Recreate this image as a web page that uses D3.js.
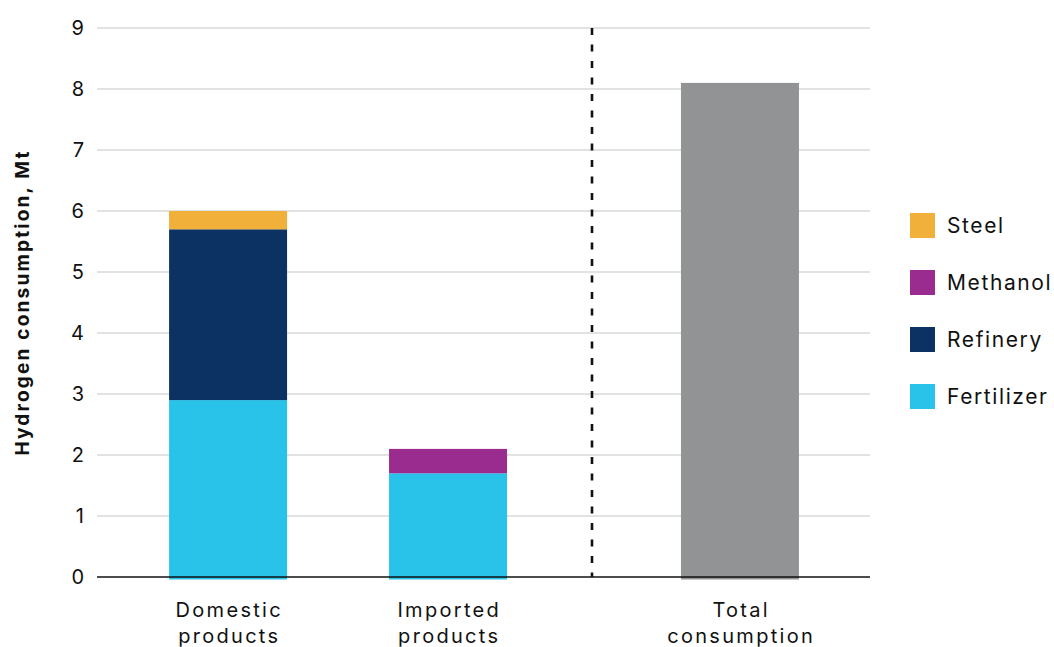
<!DOCTYPE html>
<html>
<head>
<meta charset="utf-8">
<script src="https://cdn.jsdelivr.net/npm/d3@7"></script>
<style>
  body { margin: 0; background: #fff; }
  svg { display: block; font-family: Inter, "Noto Sans", sans-serif; }
</style>
</head>
<body>
<div id="chart"></div>
<script>
// data
var categories = ["Domestic products", "Imported products"];
var totalCategory = "Total consumption";
var seriesNames = ["Fertilizer", "Refinery", "Methanol", "Steel"];
var fertilizer = [2.9, 1.7];
var refinery = [2.8, 0];
var methanol = [0, 0.4];
var steel = [0.3, 0];
var totalValue = [8.1];
var yTicks = [0, 1, 2, 3, 4, 5, 6, 7, 8, 9];

var colors = {
  Fertilizer: "#29c3ea",
  Refinery: "#0b3263",
  Methanol: "#9b2c8f",
  Steel: "#f0b03a"
};
var totalColor = "#929395";

var width = 1054, height = 647;
var plotLeft = 97, plotRight = 870, plotTop = 28, plotBottom = 577, divider = 592;

var svg = d3.select("#chart").append("svg")
    .attr("width", width)
    .attr("height", height);

var y = d3.scaleLinear().domain([0, 9]).range([plotBottom, plotTop]);

// two groups split by the dashed line
var xLeft = d3.scaleBand().domain(categories)
    .range([plotLeft, divider])
    .paddingInner(0.4636).paddingOuter(0.357).align(0.459);
var xRight = d3.scaleBand().domain([totalCategory])
    .range([divider, plotRight])
    .paddingInner(0).paddingOuter(0.678).align(0.556);

// gridlines
svg.append("g").selectAll("line")
  .data(yTicks.filter(function(d) { return d > 0; }))
  .enter().append("line")
    .attr("x1", plotLeft).attr("x2", plotRight)
    .attr("y1", function(d) { return y(d); })
    .attr("y2", function(d) { return y(d); })
    .attr("stroke", "#d9d9d9")
    .attr("stroke-width", 1.5);

// tick labels
svg.append("g").selectAll("text")
  .data(yTicks)
  .enter().append("text")
    .attr("x", 84)
    .attr("y", function(d) { return y(d); })
    .attr("dy", "0.35em")
    .attr("text-anchor", "end")
    .attr("font-size", 20)
    .attr("fill", "#111")
    .text(function(d) { return d; });

// stacked bars
var rows = categories.map(function(c, i) {
  return { cat: c, Fertilizer: fertilizer[i], Refinery: refinery[i], Methanol: methanol[i], Steel: steel[i] };
});
var stack = d3.stack().keys(seriesNames)(rows);

svg.append("g").selectAll("g")
  .data(stack)
  .enter().append("g")
    .attr("fill", function(d) { return colors[d.key]; })
  .selectAll("rect")
  .data(function(d) { return d.filter(function(p) { return p[1] - p[0] > 0; }); })
  .enter().append("rect")
    .attr("x", function(d) { return xLeft(d.data.cat); })
    .attr("width", xLeft.bandwidth())
    .attr("y", function(d) { return y(d[1]); })
    .attr("height", function(d) { return y(d[0]) - y(d[1]) + (d[0] === 0 ? 2.5 : 0); });

// total bar
svg.append("g").selectAll("rect")
  .data(totalValue)
  .enter().append("rect")
    .attr("x", xRight(totalCategory))
    .attr("width", xRight.bandwidth())
    .attr("y", function(d) { return y(d); })
    .attr("height", function(d) { return y(0) - y(d) + 2.5; })
    .attr("fill", totalColor);

// baseline
svg.append("line")
    .attr("x1", plotLeft).attr("x2", plotRight)
    .attr("y1", y(0)).attr("y2", y(0))
    .attr("stroke", "#111").attr("stroke-width", 1.5);

// dashed divider
svg.append("line")
    .attr("x1", divider).attr("x2", divider)
    .attr("y1", y(9)).attr("y2", y(0))
    .attr("stroke", "#111").attr("stroke-width", 2.6)
    .attr("stroke-dasharray", "7,9.5");

// category labels
var labelData = categories.map(function(c) { return { name: c, cx: xLeft(c) + xLeft.bandwidth() / 2 }; })
  .concat([{ name: totalCategory, cx: xRight(totalCategory) + xRight.bandwidth() / 2 }]);

var labels = svg.append("g").selectAll("text")
  .data(labelData)
  .enter().append("text")
    .attr("text-anchor", "middle")
    .attr("font-size", 20)
    .attr("letter-spacing", 2.3)
    .attr("fill", "#111");
labels.selectAll("tspan")
  .data(function(d) { return d.name.split(" ").map(function(w) { return { w: w, cx: d.cx }; }); })
  .enter().append("tspan")
    .attr("x", function(d) { return d.cx + 1.2; })
    .attr("y", function(d, i) { return 617 + i * 26; })
    .text(function(d) { return d.w; });

// y title
svg.append("text")
    .attr("transform", "translate(29," + (plotTop + plotBottom) / 2 + ") rotate(-90)")
    .attr("text-anchor", "middle")
    .attr("font-size", 19)
    .attr("font-weight", "bold")
    .attr("letter-spacing", 2.2)
    .attr("fill", "#111")
    .text("Hydrogen consumption, Mt");

// legend
var legendOrder = ["Steel", "Methanol", "Refinery", "Fertilizer"];
var legend = svg.append("g").selectAll("g")
  .data(legendOrder)
  .enter().append("g")
    .attr("transform", function(d, i) { return "translate(910," + (213 + i * 57) + ")"; });
legend.append("rect")
    .attr("width", 25).attr("height", 25)
    .attr("fill", function(d) { return colors[d]; });
legend.append("text")
    .attr("x", 37).attr("y", 12.5)
    .attr("dy", "0.35em")
    .attr("font-size", 21)
    .attr("letter-spacing", 1.6)
    .attr("fill", "#111")
    .text(function(d) { return d; });
</script>
</body>
</html>
